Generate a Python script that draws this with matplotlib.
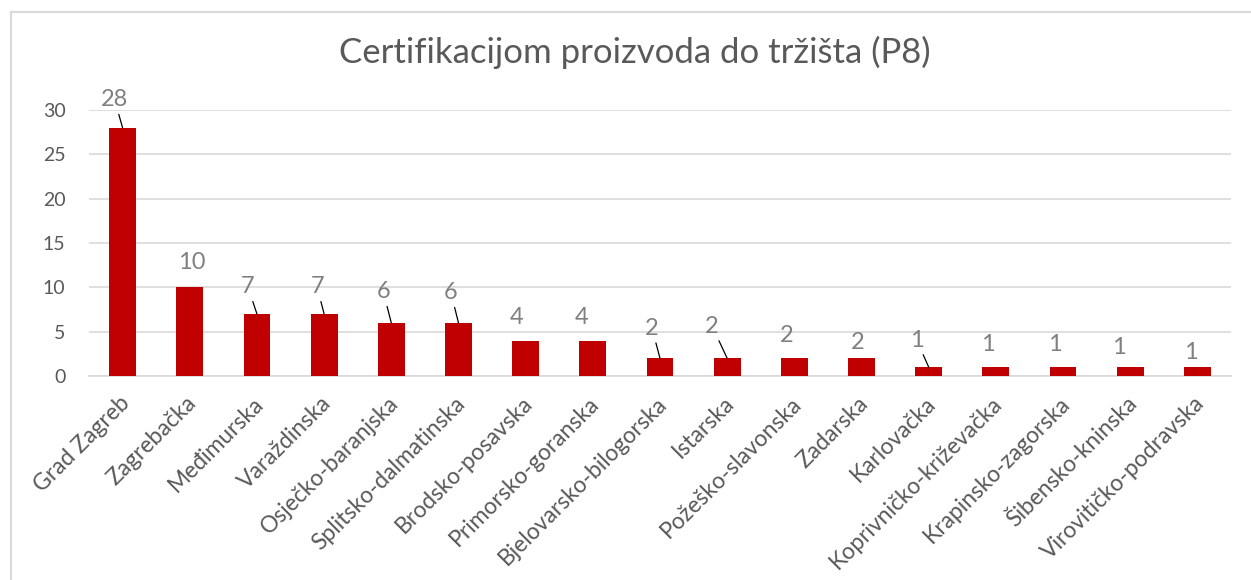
import matplotlib.pyplot as plt
from matplotlib.patches import Rectangle
from matplotlib.transforms import ScaledTranslation

plt.rcParams['font.family'] = ['Lato', 'DejaVu Sans']

zupanije = ['Grad Zagreb', 'Zagrebačka', 'Međimurska', 'Varaždinska',
            'Osječko-baranjska', 'Splitsko-dalmatinska', 'Brodsko-posavska',
            'Primorsko-goranska', 'Bjelovarsko-bilogorska', 'Istarska',
            'Požeško-slavonska', 'Zadarska', 'Karlovačka',
            'Koprivničko-križevačka', 'Krapinsko-zagorska', 'Šibensko-kninska',
            'Virovitičko-podravska']
broj = [28, 10, 7, 7, 6, 6, 4, 4, 2, 2, 2, 2, 1, 1, 1, 1, 1]

# label offsets from the top of each bar (pixels) and whether a leader line is drawn
label_dx = [-8, 2, -9, -7, -8, -7.5, -9, -11, -8, -15, -8, -4, -12, -8, -8, -11, -7]
label_dy = [28, 25, 27, 27, 31, 30, 23.5, 23.5, 30, 32, 23, 16, 27, 23, 23, 20, 15]
leader = [True, False, True, True, True, True, False, False, True, True,
          False, False, True, False, False, False, False]

W, H = 1251, 580
fig = plt.figure(figsize=(W / 100, H / 100), dpi=100)
ax = fig.add_axes([89 / W, 1 - 376 / H, (1231 - 89) / W, (376 - 110) / H])

# chart border
fig.patches.append(Rectangle((10.5 / W, -0.1), 1.2, 1.1 - 11.5 / H,
                             transform=fig.transFigure, fill=False,
                             edgecolor='#D9D9D9', linewidth=1.5))

x = list(range(len(broj)))
ax.bar(x, broj, width=0.4, color='#C00000', zorder=3)

ax.set_xlim(-0.5, len(broj) - 0.5)
ax.set_ylim(0, 30)
ax.set_yticks(range(0, 31, 5))
ax.grid(axis='y', color='#D9D9D9', linewidth=1.2, zorder=0)
for s in ['top', 'right', 'left']:
    ax.spines[s].set_visible(False)
ax.spines['bottom'].set_color('#D9D9D9')
ax.spines['bottom'].set_linewidth(1.2)
ax.tick_params(axis='both', length=0, colors='#595959', labelsize=14)
ax.tick_params(axis='y', pad=17)
ax.set_xticks(x)
ax.set_xticklabels(zupanije, rotation=45, ha='right', va='top',
                   rotation_mode='anchor', fontsize=16.5)
ax.tick_params(axis='x', pad=12)
# nudge the slanted names a little to the left
shift = ScaledTranslation(-4 / 100, 0, fig.dpi_scale_trans)
for lab in ax.get_xticklabels():
    lab.set_transform(lab.get_transform() + shift)

for i, v in enumerate(broj):
    props = None
    if leader[i]:
        props = dict(arrowstyle='-', color='black', linewidth=0.9,
                     shrinkA=1, shrinkB=0)
    ax.annotate(str(v), xy=(i, v), xytext=(label_dx[i], label_dy[i]),
                textcoords='offset pixels', ha='center', va='center',
                fontsize=17, color='#808080', arrowprops=props)

fig.text(635 / W, 1 - 52 / H, 'Certifikacijom proizvoda do tržišta (P8)',
         ha='center', va='center', fontsize=25, color='#595959')

fig.savefig('out.png', dpi=100)
